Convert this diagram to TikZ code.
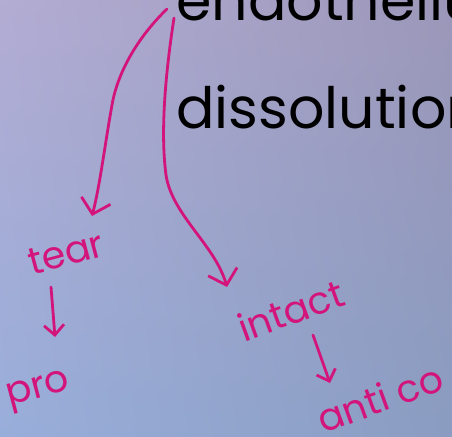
\documentclass[tikz,border=0pt]{standalone}
\usepackage{fontspec}
\setmainfont{Poppins}
\usetikzlibrary{arrows.meta, calc, shadings}

\definecolor{ink}{HTML}{D3147B}
\definecolor{bgTL}{HTML}{B3ACD3}
\definecolor{bgTR}{HTML}{9C97B9}
\definecolor{bgBL}{HTML}{98AEDA}
\definecolor{bgBR}{HTML}{8A9CC1}

\begin{document}
\begin{tikzpicture}[x=1pt, y=-1pt,
  heading/.style={anchor=base west, inner sep=0pt, text=black,
    font=\fontsize{57}{57}\selectfont},
  scrawl/.style={inner sep=0pt, text=ink, font=\fontsize{38}{38}\selectfont},
  pen/.style={draw=ink, line width=2.8pt, line cap=round, line join=round},
  bigarrow/.style={pen, -{Straight Barb[length=14pt, width=30pt]}},
  smallarrow/.style={pen, -{Straight Barb[length=10pt, width=20pt]}}]

  \useasboundingbox (0,0) rectangle (452,436);
  \clip (0,0) rectangle (452,436);
  \shade[upper left=bgTL, upper right=bgTR, lower left=bgBL, lower right=bgBR]
    (0,0) rectangle (452,436);

  % slide text
  \node[heading] (endo) at (176,21) {endothelium};
  \node[heading] (diss) at (176,128) {dissolution};

  % notes
  \node[scrawl, rotate=15] (tear) at (66,253) {tear};
  \node[scrawl, rotate=15] (pro) at (39,392) {pro};
  \node[scrawl, rotate=20] (intact) at (291,310) {intact};
  \node[scrawl, rotate=20] (antico) at (380,398) {anti co};

  \draw[bigarrow] ($(endo.base west)+(-9,-12)$)
    .. controls (140,35) and (118,70) .. (112,105)
    .. controls (104,150) and (100,185) .. ($(tear)+(26,-37)$);
  \draw[bigarrow] ($(endo.base west)+(-2,-3)$)
    .. controls (166,70) and (160,130) .. (166,175)
    .. controls (172,215) and (215,245) .. ($(intact)+(-64,-23)$);

  \draw[smallarrow] ($(tear)+(-15,34)$) -- ($(pro)+(16,-55)$);
  \draw[smallarrow] ($(intact)+(22,25)$) -- ($(antico)+(-50,-15)$);

\end{tikzpicture}
\end{document}
